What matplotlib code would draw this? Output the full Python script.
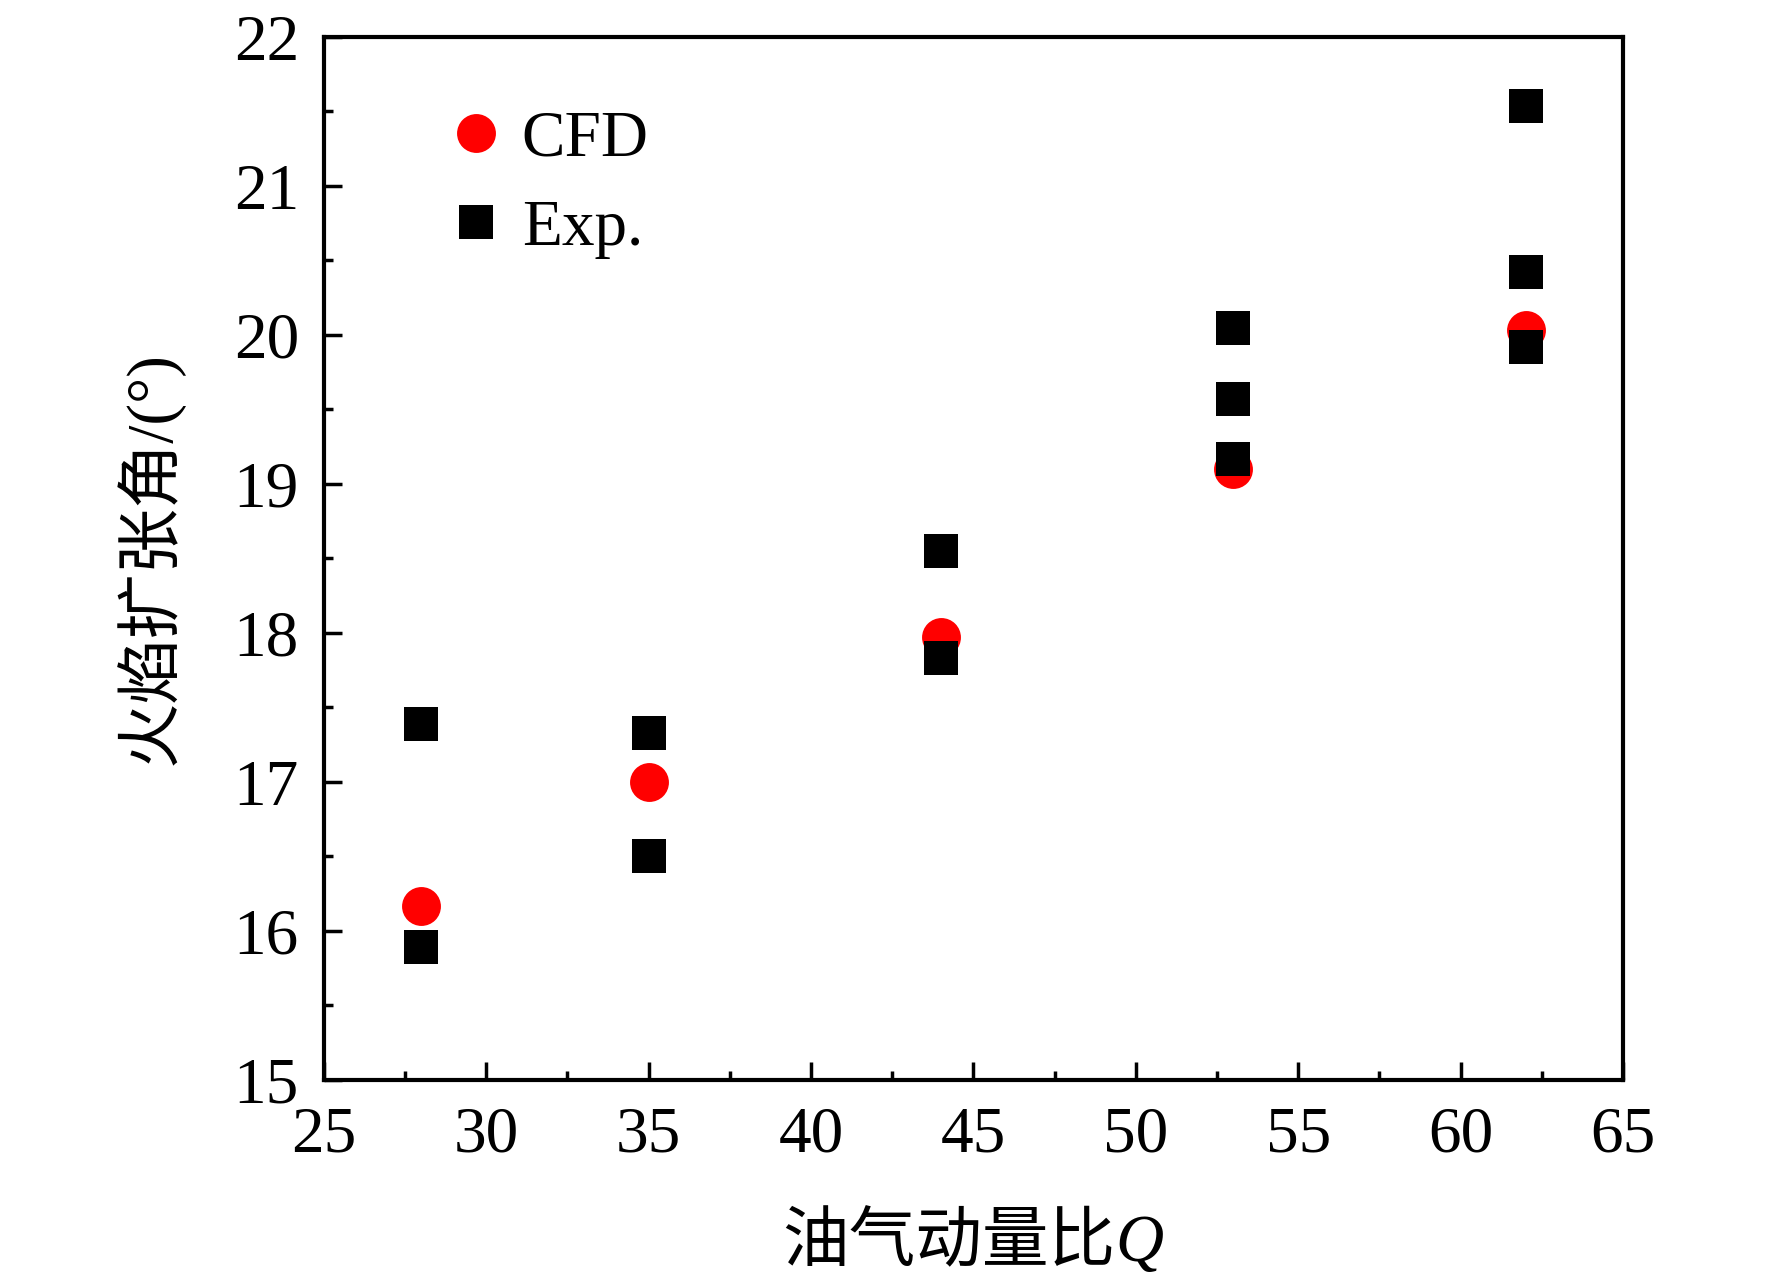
import matplotlib
matplotlib.use("Agg")
from matplotlib import pyplot as plt
from matplotlib.ticker import MultipleLocator
from matplotlib.offsetbox import TextArea, HPacker, AnnotationBbox

plt.rcParams['font.family'] = ['Liberation Serif', 'Noto Sans CJK SC']

# values
cfd_q = [28, 35, 44, 53, 62]
cfd_angle = [16.17, 17.0, 17.97, 19.10, 20.03]

exp_q = [28, 28, 35, 35, 44, 44, 53, 53, 53, 62, 62, 62]
exp_angle = [17.39, 15.89, 17.33, 16.50, 18.55, 17.83,
             20.05, 19.57, 19.17, 21.54, 20.42, 19.92]

x_ticks = [25, 30, 35, 40, 45, 50, 55, 60, 65]
y_ticks = [15, 16, 17, 18, 19, 20, 21, 22]

fig = plt.figure(figsize=(17.72, 12.79), dpi=100)
ax = fig.add_axes([0.1828, 0.1556, 0.9159 - 0.1828, 0.9711 - 0.1556])

ax.plot(cfd_q, cfd_angle, 'o', color='#ff0000', markersize=28,
        markeredgewidth=0, label='CFD')
ax.plot(exp_q, exp_angle, 's', color='black', markersize=24.5,
        markeredgewidth=0, label='Exp.')

ax.set_xlim(25, 65)
ax.set_ylim(15, 22)
ax.set_xticks(x_ticks)
ax.set_yticks(y_ticks)
ax.xaxis.set_minor_locator(MultipleLocator(2.5))
ax.yaxis.set_minor_locator(MultipleLocator(0.5))

for sp in ax.spines.values():
    sp.set_linewidth(3)
ax.tick_params(which='both', direction='in', top=False, right=False,
               width=2.5, labelsize=47)
ax.tick_params(which='major', length=13)
ax.tick_params(which='minor', length=6.5)
ax.tick_params(axis='x', pad=19)
ax.tick_params(axis='y', pad=18)

ax.set_ylabel('火焰扩张角/(°)', fontsize=47, labelpad=36)

# x label: Chinese text followed by italic Q
part1 = TextArea('油气动量比', textprops=dict(fontsize=48,
                 family=['Liberation Serif', 'Noto Sans CJK SC']))
part2 = TextArea('Q', textprops=dict(fontsize=48, family='Liberation Serif',
                 style='italic'))
box = HPacker(children=[part1, part2], align='baseline', pad=0, sep=0)
ab = AnnotationBbox(box, (0.549, 0.027), xycoords='figure fraction',
                    box_alignment=(0.5, 0.5), frameon=False, pad=0)
fig.add_artist(ab)

ax.legend(loc='upper left', bbox_to_anchor=(0.092, 0.93), frameon=False,
          fontsize=47, handlelength=1, handletextpad=0.2, labelspacing=0.45,
          borderpad=0, borderaxespad=0)

fig.savefig('out.png', dpi=100)
